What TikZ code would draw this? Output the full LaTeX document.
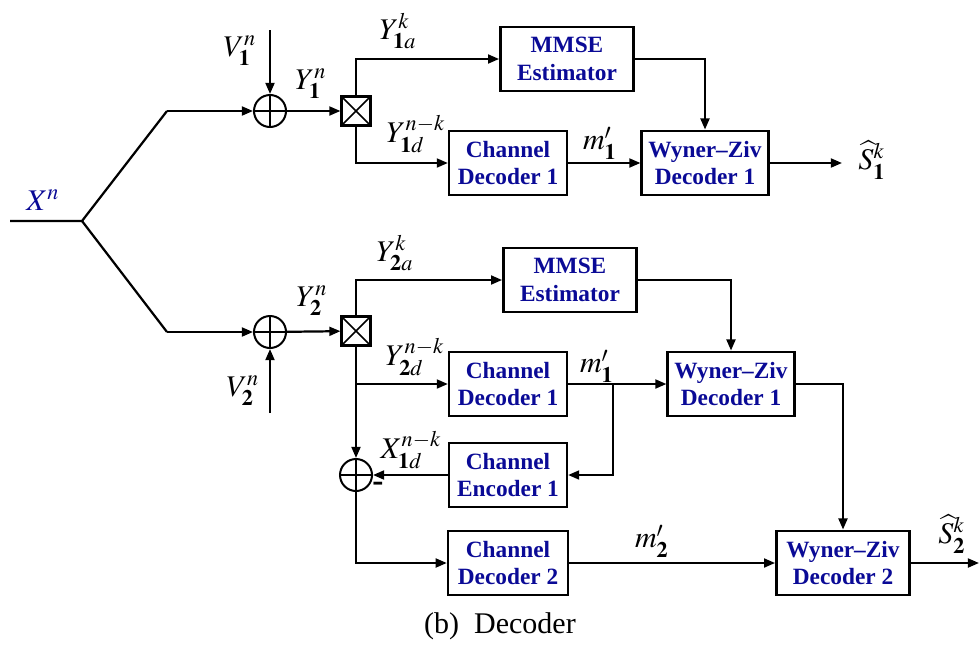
\documentclass[tikz,border=0pt]{standalone}
\usepackage{mathptmx}
\usepackage{fontspec}
\setmainfont{Liberation Serif}
\usepackage{tikz}
\usetikzlibrary{arrows.meta, positioning, calc}
\usepackage{xcolor}
\definecolor{boxblue}{RGB}{10,10,150}

\begin{document}
\begin{tikzpicture}[
    x=0.45pt, y=-0.45pt,
    every node/.style={font=\fontsize{13.5}{15}\selectfont, inner sep=1pt},
    blk/.style={draw, line width=1.1pt, minimum width=#1, minimum height=29pt, inner sep=1pt, align=center, text=boxblue, font=\fontsize{10.5}{12.5}\selectfont\bfseries},
    sumc/.style={draw, circle, line width=0.9pt, minimum size=14.4pt, inner sep=0pt,
        path picture={\draw[line width=0.7pt] (path picture bounding box.north) -- (path picture bounding box.south)
            (path picture bounding box.east) -- (path picture bounding box.west);}},
    splt/.style={draw, line width=1pt, minimum size=13pt, inner sep=0pt,
        path picture={\draw[line width=0.7pt] (path picture bounding box.north west) -- (path picture bounding box.south east)
            (path picture bounding box.north east) -- (path picture bounding box.south west);}},
    ln/.style={line width=1pt},
    arr/.style={line width=1pt, -{Triangle[length=5pt, width=4pt]}},
]
    \useasboundingbox (0,0) rectangle (980,648);

    % Source and fork
    \coordinate (xin) at (10,221);
    \coordinate (fork) at (82,221);
    \coordinate (up1) at (167,111);
    \coordinate (up2) at (167,332);
    \node[text=boxblue] (lblx) at (43,200) {$X^n$};

    % Upper receiver
    \node[sumc] (sum1) at (270,111) {};
    \coordinate (v1) at (270,30);
    \node[splt] (sp1) at (356,111) {};
    \node[blk=60pt] (mmse1) at (567,59) {MMSE\\Estimator};
    \node[blk=53pt] (cdec1) at (508,163) {Channel\\Decoder 1};
    \node[blk=57pt] (wz1) at (705,163) {Wyner--Ziv\\Decoder 1};
    \coordinate (s1out) at (842,163);

    % Lower receiver
    \node[sumc] (sum2) at (270,332) {};
    \coordinate (v2) at (270,413);
    \node[splt] (sp2) at (356,331) {};
    \node[blk=60pt] (mmse2) at (570,280) {MMSE\\Estimator};
    \node[blk=53pt] (cdec1b) at (508,384) {Channel\\Decoder 1};
    \node[blk=57pt] (wz1b) at (731,384) {Wyner--Ziv\\Decoder 1};
    \node[blk=53pt] (cenc) at (508,475) {Channel\\Encoder 1};
    \node[sumc] (sum3) at (356,475) {};
    \node[blk=54pt] (cdec2) at (508,563) {Channel\\Decoder 2};
    \node[blk=60pt] (wz2) at (843,563) {Wyner--Ziv\\Decoder 2};
    \coordinate (s2out) at (979,563);
    \coordinate (br2) at (356,384);
    \coordinate (br3) at (613,384);

    % Labels
    \node (lblv1) at (240,51) {$V^n_{\mathbf{1}}$};
    \node (lbly1) at (311,84) {$Y^n_{\mathbf{1}}$};
    \node (lbly1a) at (398,31) {$Y^k_{\mathbf{1}a}$};
    \node (lbly1d) at (416,134) {$Y^{n-k}_{\mathbf{1}d}$};
    \node (lblm1) at (600,143) {$m'_{\mathbf{1}}$};
    \node (lbls1) at (872,160) {$\widehat{S}^k_{\mathbf{1}}$};
    \node (lblv2) at (243,391) {$V^n_{\mathbf{2}}$};
    \node (lbly2) at (312,301) {$Y^n_{\mathbf{2}}$};
    \node (lbly2a) at (395,253) {$Y^k_{\mathbf{2}a}$};
    \node (lbly2d) at (415,357) {$Y^{n-k}_{\mathbf{2}d}$};
    \node (lblm1b) at (597,366) {$m'_{\mathbf{1}}$};
    \node (lblx1d) at (411,450) {$X^{n-k}_{\mathbf{1}d}$};
    \node[font=\fontsize{15}{15}\selectfont\bfseries] (lblmin) at (378,487) {-};
    \node (lblm2) at (652,541) {$m'_{\mathbf{2}}$};
    \node (lbls2) at (952,534) {$\widehat{S}^k_{\mathbf{2}}$};
    \node[font=\fontsize{13.5}{15}\selectfont] (caption) at (500,626) {(b)\enspace Decoder};

    % Arrows, upper branch
    \draw[ln] (xin) -- (fork) -- (up1);
    \draw[arr] (up1) -- (sum1);
    \draw[arr] (v1) -- (sum1);
    \draw[arr] (sum1) -- (sp1);
    \draw[arr] (sp1.north) |- (mmse1.west);
    \draw[arr] (sp1.south) |- (cdec1.west);
    \draw[arr] (mmse1.east) -| (wz1.north);
    \draw[arr] (cdec1) -- (wz1);
    \draw[arr] (wz1) -- (s1out);

    % Arrows, lower branch
    \draw[ln] (fork) -- (up2);
    \draw[arr] (up2) -- (sum2);
    \draw[arr] (v2) -- (sum2);
    \draw[arr] (sum2) -- (sp2);
    \draw[arr] (sp2.north) |- (mmse2.west);
    \draw[arr] (sp2.south) -- (sum3.north);
    \draw[arr] (br2) -- (cdec1b.west);
    \draw[arr] (mmse2.east) -| (wz1b.north);
    \draw[arr] (cdec1b) -- (wz1b);
    \draw[arr] (br3) |- (cenc.east);
    \draw[arr] (cenc) -- (sum3);
    \draw[arr] (sum3.south) |- (cdec2.west);
    \draw[arr] (cdec2) -- (wz2);
    \draw[arr] (wz1b.east) -| (wz2.north);
    \draw[arr] (wz2) -- (s2out);
\end{tikzpicture}
\end{document}
